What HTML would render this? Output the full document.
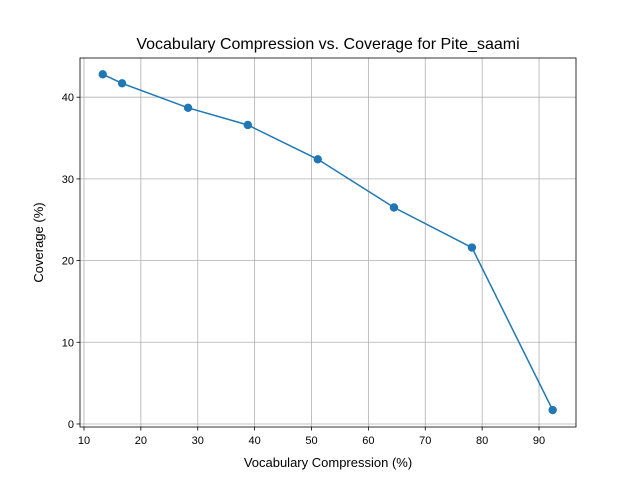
<!DOCTYPE html>
<html><head><meta charset="utf-8"><style>
body{margin:0;background:#fff;font-family:"Liberation Sans","DejaVu Sans",sans-serif;}
</style></head><body>
<svg id="chart" width="640" height="480" xmlns="http://www.w3.org/2000/svg"></svg>
<script>
const xValues=[13.3,16.7,28.3,38.8,51.1,64.5,78.2,92.4];
const yValues=[42.8,41.7,38.7,36.6,32.4,26.5,21.6,1.7];
const xTicks=[10,20,30,40,50,60,70,80,90];
const yTicks=[0,10,20,30,40];
const L=80,R=576,T=58,B=427;
const xMin=9.3,xMax=96.5,yMin=-0.37,yMax=44.8;
const sx=v=>L+(v-xMin)/(xMax-xMin)*(R-L);
const sy=v=>B-(v-yMin)/(yMax-yMin)*(B-T);
const svg=document.getElementById('chart');
const NS='http://www.w3.org/2000/svg';
function mk(tag,attrs,parent){const e=document.createElementNS(NS,tag);for(const k in attrs)e.setAttribute(k,attrs[k]);(parent||svg).appendChild(e);return e;}
const grid=mk('g',{});


xTicks.forEach(t=>{const x=sx(t);
mk('line',{x1:x,x2:x,y1:T,y2:B,stroke:'#b0b0b0','stroke-width':0.8},grid);
mk('line',{x1:x,x2:x,y1:B,y2:B+3.5,stroke:'#000','stroke-width':0.8});
const tx=mk('text',{x:x,y:B+17,'text-anchor':'middle','font-size':11,fill:'#000'});tx.textContent=t;

});
yTicks.forEach(t=>{const y=sy(t);
mk('line',{x1:L,x2:R,y1:y,y2:y,stroke:'#b0b0b0','stroke-width':0.8},grid);
mk('line',{x1:L-3.5,x2:L,y1:y,y2:y,stroke:'#000','stroke-width':0.8});
const tx=mk('text',{x:L-6,y:y+4,'text-anchor':'end','font-size':11,fill:'#000'});tx.textContent=t;

});
const pl=mk('polyline',{points:xValues.map((v,i)=>sx(v)+','+sy(yValues[i])).join(' '),fill:'none',stroke:'#1f77b4','stroke-width':1.5});


xValues.forEach((v,i)=>{const c=mk('circle',{cx:sx(v),cy:sy(yValues[i]),r:4.2,fill:'#1f77b4'});

});
const fr=mk('rect',{x:L,y:T,width:R-L,height:B-T,fill:'none',stroke:'#000','stroke-width':0.8});


const ti=mk('text',{x:(L+R)/2,y:T-9,'text-anchor':'middle','font-size':16,fill:'#000'});ti.textContent='Vocabulary Compression vs. Coverage for Pite_saami';


const xl=mk('text',{x:(L+R)/2,y:467,'text-anchor':'middle','font-size':13,fill:'#000'});xl.textContent='Vocabulary Compression (%)';


const yl=mk('text',{x:43,y:(T+B)/2,'text-anchor':'middle','font-size':13,fill:'#000',transform:'rotate(-90 43 '+((T+B)/2)+')'});yl.textContent='Coverage (%)';


</script>
</body></html>
